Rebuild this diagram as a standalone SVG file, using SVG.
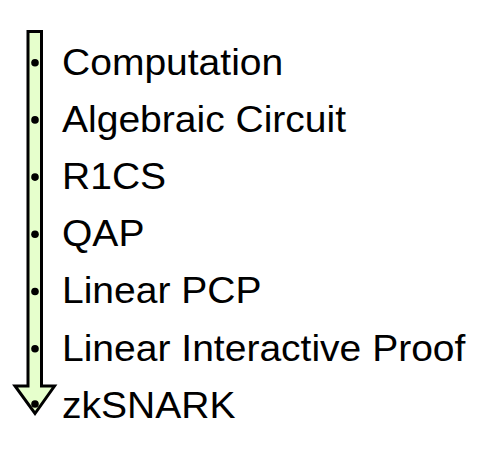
<svg xmlns="http://www.w3.org/2000/svg" width="503" height="451" viewBox="0 0 503 451">
<style>
.lbl{font-family:"Liberation Sans",Arial,sans-serif;font-size:37px;fill:#000}
.dot{fill:#000}
.arrow{fill:#e6ffcc;stroke:#000;stroke-width:3;stroke-linejoin:miter}
</style>
<rect width="503" height="451" fill="#fff"/>
<g id="connectors">
<polygon class="arrow" points="28,31.5 41.5,31.5 41.5,386 54.5,386 35,413.5 15,386 28,386"/>
</g>
<g id="n1"><circle class="dot" cx="35" cy="62.7" r="3.8"/><text class="lbl" transform="translate(62,74.5) scale(1.055,1)">Computation</text></g>
<g id="n2"><circle class="dot" cx="35" cy="119.9" r="3.8"/><text class="lbl" transform="translate(62,131.7) scale(1.055,1)">Algebraic Circuit</text></g>
<g id="n3"><circle class="dot" cx="35" cy="177.1" r="3.8"/><text class="lbl" transform="translate(62,188.9) scale(1.055,1)">R1CS</text></g>
<g id="n4"><circle class="dot" cx="35" cy="234.3" r="3.8"/><text class="lbl" transform="translate(62,246.1) scale(1.055,1)">QAP</text></g>
<g id="n5"><circle class="dot" cx="35" cy="291.5" r="3.8"/><text class="lbl" transform="translate(62,303.3) scale(1.055,1)">Linear PCP</text></g>
<g id="n6"><circle class="dot" cx="35" cy="348.7" r="3.8"/><text class="lbl" transform="translate(62,360.5) scale(1.055,1)">Linear Interactive Proof</text></g>
<g id="n7"><circle class="dot" cx="35" cy="404" r="3.8"/><text class="lbl" transform="translate(62,417.7) scale(1.055,1)">zkSNARK</text></g>
</svg>
